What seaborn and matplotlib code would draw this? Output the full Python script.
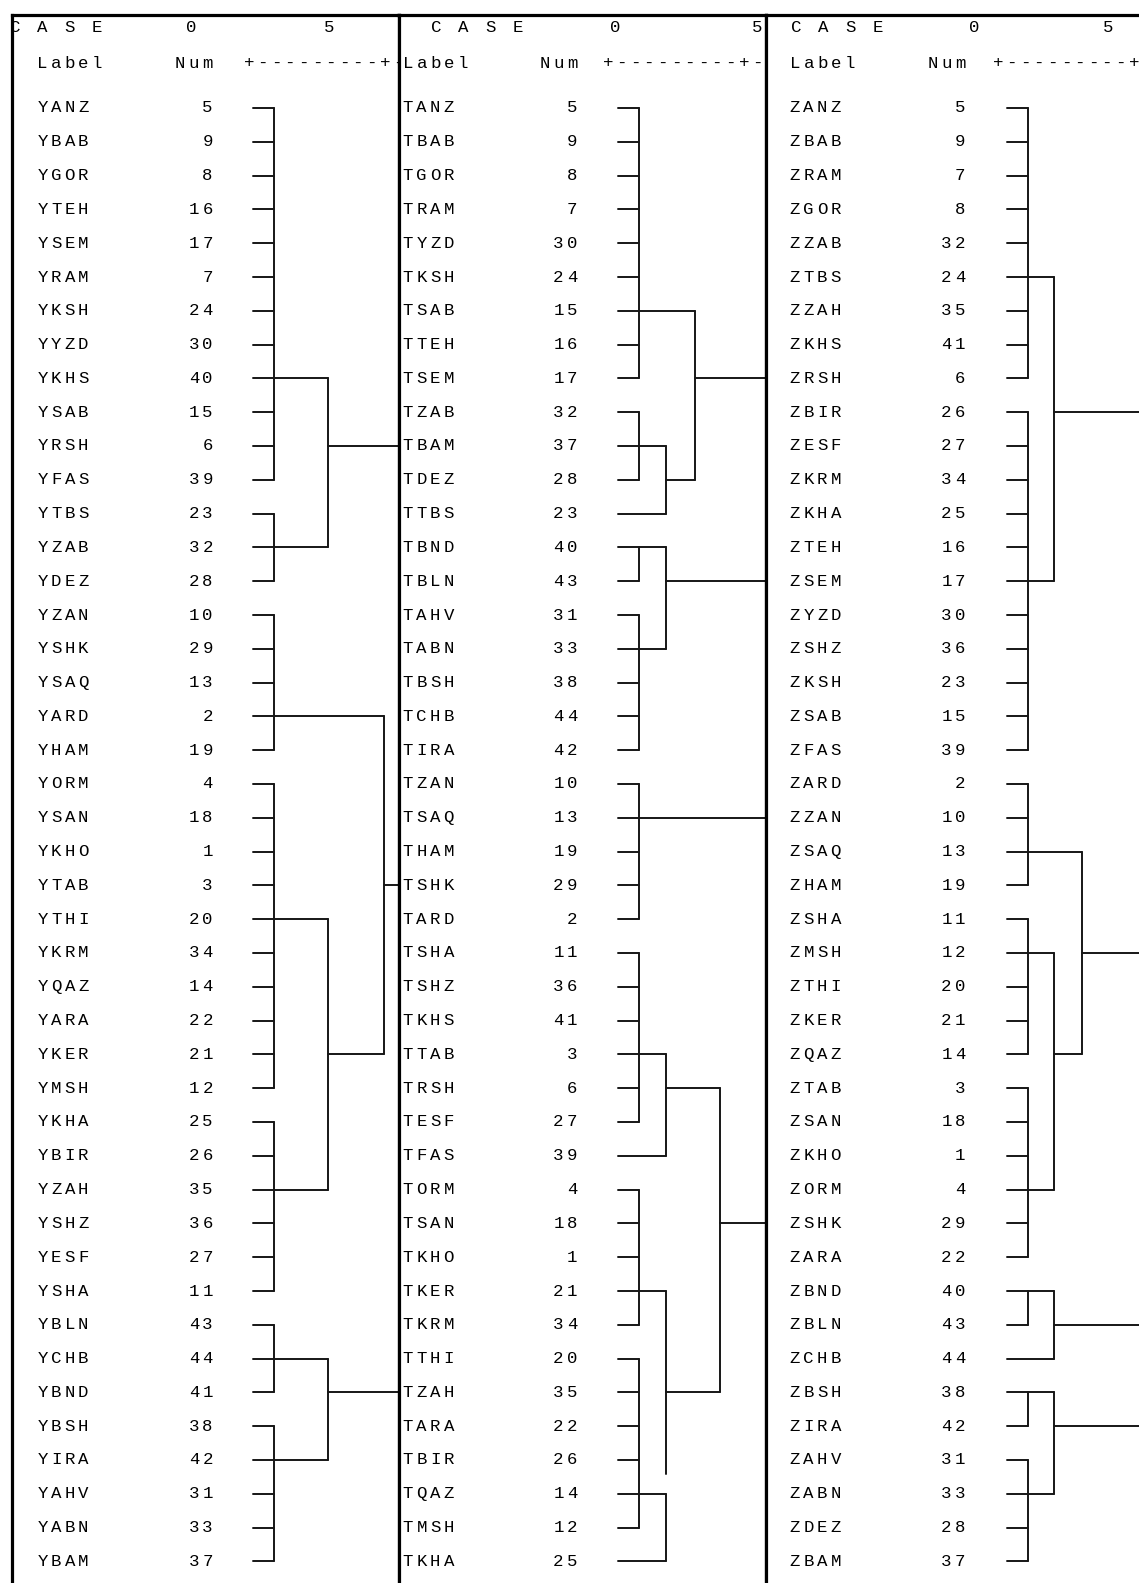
import matplotlib
matplotlib.use("Agg")
import matplotlib.pyplot as plt
import numpy as np
import pandas as pd
import seaborn as sns

# ------------------------------------------------------------------ data
y_labels = ["YANZ", "YBAB", "YGOR", "YTEH", "YSEM", "YRAM", "YKSH", "YYZD", "YKHS", "YSAB", "YRSH", "YFAS",
            "YTBS", "YZAB", "YDEZ", "YZAN", "YSHK", "YSAQ", "YARD", "YHAM", "YORM", "YSAN", "YKHO", "YTAB",
            "YTHI", "YKRM", "YQAZ", "YARA", "YKER", "YMSH", "YKHA", "YBIR", "YZAH", "YSHZ", "YESF", "YSHA",
            "YBLN", "YCHB", "YBND", "YBSH", "YIRA", "YAHV", "YABN", "YBAM"]
y_nums = [5, 9, 8, 16, 17, 7, 24, 30, 40, 15, 6, 39, 23, 32, 28, 10, 29, 13, 2, 19, 4, 18, 1, 3,
          20, 34, 14, 22, 21, 12, 25, 26, 35, 36, 27, 11, 43, 44, 41, 38, 42, 31, 33, 37]
# (node, merge distance, members: leaf rows or nodes, row where the node is drawn)
y_nodes = [
    ("a1", 0.75, list(range(0, 12)), 8),
    ("a2", 0.75, [12, 13, 14], 13),
    ("a", 2.65, ["a1", "a2"], 10),
    ("b1", 0.75, [15, 16, 17, 18, 19], 18),
    ("c1", 0.75, list(range(20, 30)), 24),
    ("c2", 0.75, list(range(30, 36)), 32),
    ("c", 2.65, ["c1", "c2"], 28),
    ("b", 4.6, ["b1", "c"], 23),
    ("d1", 0.75, [36, 37, 38], 37),
    ("d2", 0.75, [39, 40, 41, 42, 43], 40),
    ("d", 2.65, ["d1", "d2"], 38),
]
y_roots = ["a", "b", "d"]
y_gaps = []

t_labels = ["TANZ", "TBAB", "TGOR", "TRAM", "TYZD", "TKSH", "TSAB", "TTEH", "TSEM", "TZAB", "TBAM", "TDEZ",
            "TTBS", "TBND", "TBLN", "TAHV", "TABN", "TBSH", "TCHB", "TIRA", "TZAN", "TSAQ", "THAM", "TSHK",
            "TARD", "TSHA", "TSHZ", "TKHS", "TTAB", "TRSH", "TESF", "TFAS", "TORM", "TSAN", "TKHO", "TKER",
            "TKRM", "TTHI", "TZAH", "TARA", "TBIR", "TQAZ", "TMSH", "TKHA"]
t_nums = [5, 9, 8, 7, 30, 24, 15, 16, 17, 32, 37, 28, 23, 40, 43, 31, 33, 38, 44, 42, 10, 13, 19, 29,
          2, 11, 36, 41, 3, 6, 27, 39, 4, 18, 1, 21, 34, 20, 35, 22, 26, 14, 12, 25]
t_nodes = [
    ("e1", 0.75, list(range(0, 9)), 6),
    ("e2", 0.75, [9, 10, 11], 10),
    ("e3", 1.7, ["e2", 12], 11),
    ("e", 2.7, ["e1", "e3"], 8),
    ("f1", 0.75, [13, 14], 13),
    ("f2", 0.75, [15, 16, 17, 18, 19], 16),
    ("f", 1.7, ["f1", "f2"], 14),
    ("g", 0.75, [20, 21, 22, 23, 24], 21),
    ("h1", 0.75, [25, 26, 27, 28, 29, 30], 28),
    ("h2", 1.7, ["h1", 31], 29),
    ("i1", 0.75, [32, 33, 34, 35, 36], 35),
    ("i2", 0.75, [37, 38, 39, 40, 41, 42], 41),
    ("i", 1.7, ["i1", "i2", 43], 38),
    ("h", 3.6, ["h2", "i"], 33),
]
t_roots = ["e", "f", "g", "h"]
t_gaps = [("i", 40.4, 41.0)]

z_labels = ["ZANZ", "ZBAB", "ZRAM", "ZGOR", "ZZAB", "ZTBS", "ZZAH", "ZKHS", "ZRSH", "ZBIR", "ZESF", "ZKRM",
            "ZKHA", "ZTEH", "ZSEM", "ZYZD", "ZSHZ", "ZKSH", "ZSAB", "ZFAS", "ZARD", "ZZAN", "ZSAQ", "ZHAM",
            "ZSHA", "ZMSH", "ZTHI", "ZKER", "ZQAZ", "ZTAB", "ZSAN", "ZKHO", "ZORM", "ZSHK", "ZARA", "ZBND",
            "ZBLN", "ZCHB", "ZBSH", "ZIRA", "ZAHV", "ZABN", "ZDEZ", "ZBAM"]
z_nums = [5, 9, 7, 8, 32, 24, 35, 41, 6, 26, 27, 34, 25, 16, 17, 30, 36, 23, 15, 39, 2, 10, 13, 19,
          11, 12, 20, 21, 14, 3, 18, 1, 4, 29, 22, 40, 43, 44, 38, 42, 31, 33, 28, 37]
z_nodes = [
    ("j1", 0.75, list(range(0, 9)), 5),
    ("j2", 0.75, list(range(9, 20)), 14),
    ("j", 1.65, ["j1", "j2"], 9),
    ("k1", 0.75, [20, 21, 22, 23], 22),
    ("k2", 0.75, [24, 25, 26, 27, 28], 25),
    ("k3", 0.75, [29, 30, 31, 32, 33, 34], 32),
    ("k4", 1.65, ["k2", "k3"], 28),
    ("k", 2.65, ["k1", "k4"], 25),
    ("l1", 0.75, [35, 36], 35),
    ("l", 1.65, ["l1", 37], 36),
    ("m1", 0.75, [38, 39], 38),
    ("m2", 0.75, [40, 41, 42, 43], 41),
    ("m", 1.65, ["m1", "m2"], 39),
]
z_roots = ["j", "k", "l", "m"]
z_gaps = []

ruler_ticks = ["0", "5"]

# ------------------------------------------------------------------ layout (pixels)
W, H = 1139, 1583
ROW0, ROWH = 108, 33.8        # pixel y of first row, row pitch
UNIT = 28.4                   # pixels per distance unit
ADV = 13.6                    # character pitch
TOP = 15
panels = [
    dict(labels=y_labels, nums=y_nums, nodes=y_nodes, roots=y_roots, gaps=y_gaps,
         L=11.5, R=398.5, T=253, lab=42.5, num=207.5, case=15, zero=191, five=329,
         ruler=249, rstr="+---------+-", right=True),
    dict(labels=t_labels, nums=t_nums, nodes=t_nodes, roots=t_roots, gaps=t_gaps,
         L=398.5, R=766, T=618, lab=408, num=572, case=436, zero=615, five=757.5,
         ruler=608, rstr="+---------+-", right=True),
    dict(labels=z_labels, nums=z_nums, nodes=z_nodes, roots=z_roots, gaps=z_gaps,
         L=766, R=1139, T=1007, lab=795, num=960, case=796, zero=974, five=1108,
         ruler=998, rstr="+---------+", right=False),
]

sns.set_theme(style="white")
plt.rcParams["font.family"] = ["Liberation Mono", "DejaVu Sans Mono"]
FS = 12.5
INK = "#161616"

fig = plt.figure(figsize=(W / 100, H / 100), dpi=100)
fig.patch.set_facecolor("white")


def segments(nodes, roots, gaps, edge):
    info = {n[0]: n for n in nodes}
    segs = []

    def pos(c):
        return (c, 0.0) if isinstance(c, int) else (info[c][3], info[c][1])

    for name, h, kids, row in nodes:
        rows = []
        for c in kids:
            r, x0 = pos(c)
            rows.append(r)
            segs.append(((x0, h), (r, r)))
        lo, hi = min(rows), max(rows)
        cuts = [(g0, g1) for (g, g0, g1) in gaps if g == name]
        start = lo
        for g0, g1 in cuts:
            segs.append(((h, h), (start, g0)))
            start = g1
        segs.append(((h, h), (start, hi)))
    for rt in roots:
        _, h, _, row = info[rt]
        segs.append(((h, edge), (row, row)))
    return segs


for p in panels:
    ax = fig.add_axes([p["L"] / W, 0, (p["R"] - p["L"]) / W, (H - TOP) / H])
    ax.set_facecolor("white")
    x_lo = (p["L"] - p["T"]) / UNIT
    x_hi = (p["R"] - p["T"]) / UNIT
    segs = segments(p["nodes"], p["roots"], p["gaps"], x_hi + 5)
    rows = []
    for k, (xs, ys) in enumerate(segs):
        rows.append(dict(x=xs[0], y=ys[0], seg=k, o=0))
        rows.append(dict(x=xs[1], y=ys[1], seg=k, o=1))
    df = pd.DataFrame(rows)
    sns.lineplot(data=df, x="x", y="y", units="seg", estimator=None, sort=False,
                 color=INK, lw=1.4, ax=ax, legend=False)
    ax.set_xlim(x_lo, x_hi)
    ax.set_ylim((H - ROW0) / ROWH, (TOP - ROW0) / ROWH)
    ax.set_xticks([])
    ax.set_yticks([])
    ax.set_xlabel("")
    ax.set_ylabel("")
    for s in ["left", "top", "right", "bottom"]:
        ax.spines[s].set_visible(False)
    for s in (["left", "top", "right"] if p["right"] else ["left", "top"]):
        ax.spines[s].set_visible(True)
        ax.spines[s].set_color("black")
        ax.spines[s].set_linewidth(2.3)

    def px(v):
        return (v - p["T"]) / UNIT

    def spaced(s, first_center, r):
        for i, ch in enumerate(s):
            if ch != " ":
                ax.text(px(first_center + i * ADV), r, ch, ha="center", va="center",
                        fontsize=FS, color="black", clip_on=False)

    def spaced_right(s, last_center, r):
        spaced(s, last_center - (len(s) - 1) * ADV, r)

    r_head1 = (27 - ROW0) / ROWH
    r_head2 = (63 - ROW0) / ROWH
    spaced("C A S E", p["case"], r_head1)
    spaced(ruler_ticks[0], p["zero"], r_head1)
    spaced(ruler_ticks[1], p["five"], r_head1)
    spaced("Label", p["lab"], r_head2)
    spaced_right("Num", p["num"], r_head2)
    spaced(p["rstr"], p["ruler"], r_head2)
    for r, (lab, n) in enumerate(zip(p["labels"], p["nums"])):
        spaced(lab, p["lab"], r)
        spaced_right(str(n), p["num"], r)

fig.savefig("out.png", dpi=100, facecolor="white")
